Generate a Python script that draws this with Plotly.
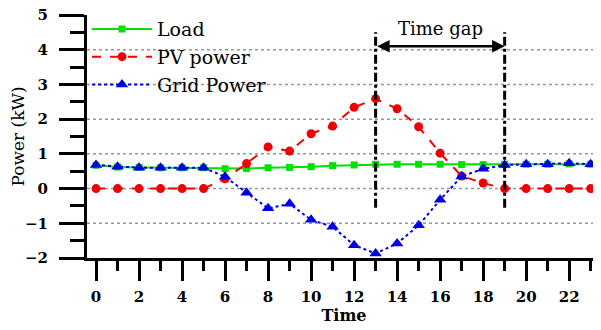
import plotly.graph_objects as go

hours = list(range(24))
load = [0.67, 0.62, 0.61, 0.6, 0.6, 0.6, 0.57, 0.58, 0.6, 0.61, 0.63, 0.66, 0.68, 0.7,
        0.7, 0.7, 0.7, 0.69, 0.69, 0.7, 0.7, 0.7, 0.71, 0.7]
pv = [0, 0, 0, 0, 0, 0, 0.28, 0.72, 1.2, 1.08, 1.58, 1.8, 2.34, 2.59,
      2.3, 1.78, 1.02, 0.36, 0.16, 0, 0, 0, 0, 0]
grid = [0.68, 0.63, 0.6, 0.6, 0.6, 0.6, 0.34, -0.12, -0.57, -0.44, -0.9, -1.1, -1.63, -1.87,
        -1.58, -1.06, -0.32, 0.35, 0.57, 0.68, 0.7, 0.7, 0.73, 0.7]
gap_start, gap_end = 13, 19
gap_label = "Time gap"

FONT = "DejaVu Serif, serif"

fig = go.Figure()
fig.add_trace(go.Scatter(x=hours, y=load, name="Load", mode="lines+markers",
                         line=dict(color="rgb(0,225,0)", width=2),
                         marker=dict(symbol="square", size=7, color="rgb(0,225,0)")))
fig.add_trace(go.Scatter(x=hours, y=pv, name="PV power", mode="lines+markers",
                         line=dict(color="rgb(240,0,0)", width=2, dash="dash"),
                         marker=dict(symbol="circle", size=9, color="rgb(240,0,0)")))
fig.add_trace(go.Scatter(x=hours, y=grid, name="Grid Power", mode="lines+markers",
                         line=dict(color="rgb(0,0,230)", width=2, dash="dot"),
                         marker=dict(symbol="triangle-up", size=11, color="rgb(0,0,230)")))

# dotted gridlines
for v in [-1, 0, 1, 2, 3, 4]:
    fig.add_shape(type="line", xref="paper", yref="y", x0=0, x1=1, y0=v, y1=v,
                  line=dict(color="rgb(150,150,150)", width=1.5, dash="dot"), layer="below")

# time gap lines
for gx in [gap_start, gap_end]:
    fig.add_shape(type="line", xref="x", yref="y", x0=gx, x1=gx, y0=-0.55, y1=4.5,
                  line=dict(color="black", width=3, dash="dashdot"))

fig.add_annotation(x=gap_end, y=4.1, ax=gap_start, ay=4.1, xref="x", yref="y",
                   axref="x", ayref="y", showarrow=True, arrowhead=2, arrowsize=1,
                   arrowwidth=2.5, arrowside="end+start", arrowcolor="black", text="")
fig.add_annotation(x=(gap_start + gap_end) / 2, y=4.62, xref="x", yref="y", text=gap_label,
                   showarrow=False, font=dict(family=FONT, size=18, color="black"))

fig.update_layout(
    width=601, height=330,
    margin=dict(l=79, r=8, t=7, b=80, autoexpand=False),
    paper_bgcolor="white", plot_bgcolor="white",
    font=dict(family=FONT, color="black"),
    showlegend=True,
    legend=dict(x=0.0, y=1.02, xanchor="left", yanchor="top", bgcolor="rgba(0,0,0,0)",
                font=dict(family=FONT, size=19), itemwidth=60),
    xaxis=dict(range=[-0.42, 23.48], showgrid=False, zeroline=False, automargin=False,
               showline=True, linewidth=3, linecolor="black",
               tickmode="linear", tick0=0, dtick=2, ticks="outside", ticklen=20, tickwidth=3,
               tickcolor="black", ticklabelstandoff=3, ticklabeloverflow="allow",
               minor=dict(dtick=1, tick0=0, ticks="outside", ticklen=10, tickwidth=3, tickcolor="black", showgrid=False),
               tickfont=dict(family=FONT, size=15, color="black", weight="bold"),
               title=dict(text="<b>Time</b>", font=dict(family=FONT, size=16), standoff=2)),
    yaxis=dict(range=[-2, 5], showgrid=False, zeroline=False, automargin=False,
               showline=True, linewidth=3, linecolor="black",
               tickmode="linear", tick0=0, dtick=1, ticks="outside", ticklen=25, tickwidth=3,
               tickcolor="black", ticklabelstandoff=8, ticklabeloverflow="allow",
               minor=dict(dtick=0.5, tick0=0, ticks="outside", ticklen=14, tickwidth=3, tickcolor="black", showgrid=False),
               tickfont=dict(family=FONT, size=15, color="black", weight="bold"),
               title=dict(text="Power (kW)", font=dict(family=FONT, size=17), standoff=10)),
)

fig.write_html("out.html")
